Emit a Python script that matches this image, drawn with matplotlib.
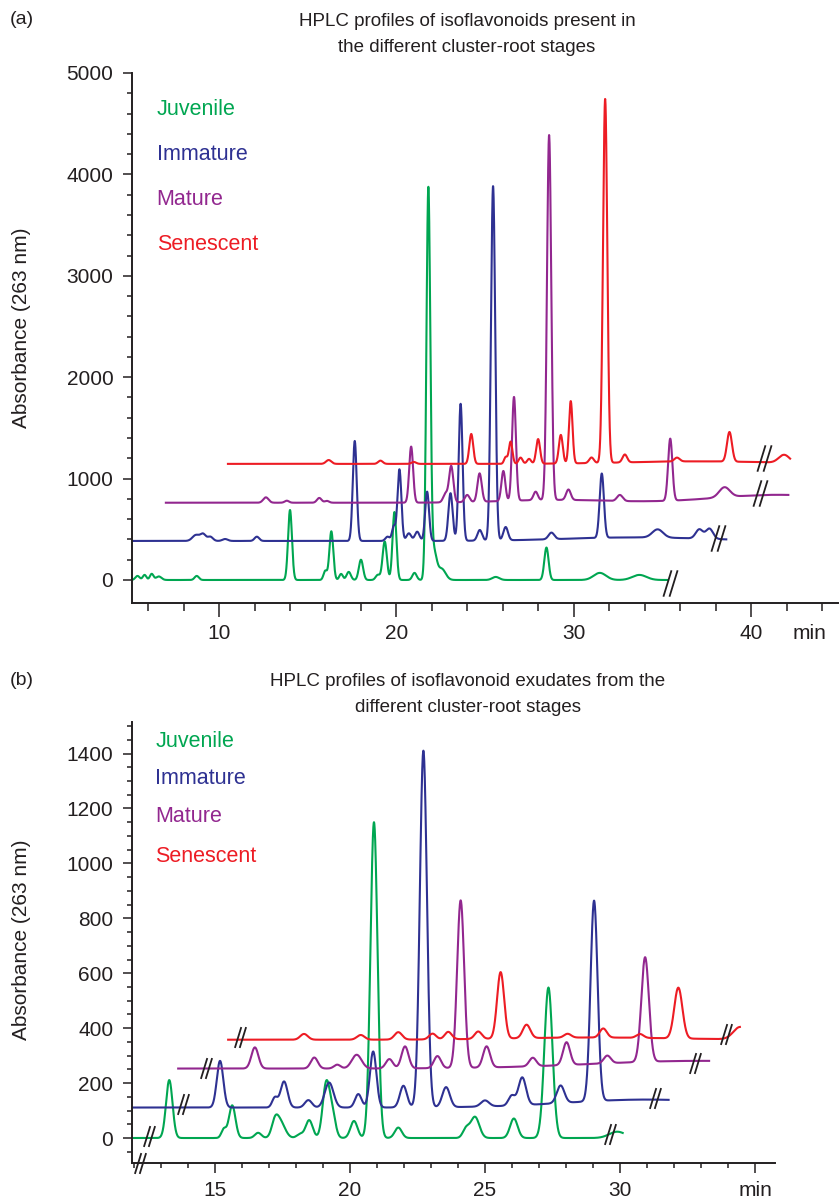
import numpy as np
import matplotlib
matplotlib.use("Agg")
import matplotlib.pyplot as plt
from matplotlib.path import Path
from matplotlib.ticker import FixedLocator, MultipleLocator

plt.rcParams['font.family'] = ['Liberation Sans', 'DejaVu Sans']

stages = ["Juvenile", "Immature", "Mature", "Senescent"]
colors = ["#00a651", "#2e3192", "#92278f", "#ed1c24"]
ink = "#231f20"

# ---- (a) isoflavonoids in the roots: run start / end (min) and baseline
a_start = [5.1, 5.1, 7.0, 10.5]
a_end = [35.3, 38.6, 42.1, 42.2]
a_base = [0, 385, 762, 1145]

# peak tables: retention time (min), apex absorbance, peak sigma (min)
a_juv_t = [5.4, 5.8, 6.2, 6.6, 8.74, 14.0, 15.99, 16.33, 16.88, 17.31, 18.0, 18.95,
           19.34, 19.89, 21.02, 21.8, 22.1, 22.55, 25.6, 28.46, 31.47, 33.7]
a_juv_y = [40, 50, 60, 35, 40, 690, 90, 480, 60, 80, 200, 50,
           380, 670, 70, 3830, 280, 110, 30, 320, 70, 50]
a_juv_w = [0.12, 0.1, 0.1, 0.15, 0.12, 0.11, 0.1, 0.11, 0.1, 0.12, 0.12, 0.12,
           0.12, 0.11, 0.12, 0.11, 0.16, 0.22, 0.2, 0.12, 0.35, 0.4]

a_imm_t = [8.7, 9.1, 9.5, 10.34, 12.13, 17.65, 19.5, 19.85, 20.17, 20.7, 21.17, 21.73,
           23.05, 23.62, 24.7, 25.45, 26.16, 28.74, 31.58, 34.73, 37.08, 37.65, 33.5]
a_imm_y = [444, 450, 427, 404, 427, 1371, 427, 526, 1091, 460, 476, 871,
           855, 1736, 490, 3880, 516, 450, 1019, 466, 476, 486, 420]
a_imm_w = [0.2, 0.15, 0.15, 0.15, 0.13, 0.11, 0.12, 0.1, 0.11, 0.13, 0.13, 0.11,
           0.12, 0.11, 0.13, 0.12, 0.13, 0.16, 0.12, 0.3, 0.2, 0.2, 4.0]

a_mat_t = [12.64, 13.82, 15.65, 16.08, 20.83, 22.77, 23.09, 23.99, 24.69, 26.03, 26.63,
           27.85, 28.61, 29.7, 32.6, 35.44, 38.5, 29.0, 41.5]
a_mat_y = [815, 782, 809, 780, 1315, 848, 1118, 832, 1042, 1058, 1785,
           845, 4360, 865, 822, 1374, 861, 790, 840]
a_mat_w = [0.15, 0.12, 0.13, 0.12, 0.11, 0.13, 0.12, 0.13, 0.12, 0.11, 0.11,
           0.12, 0.12, 0.13, 0.16, 0.12, 0.3, 3.0, 3.5]

a_sen_t = [16.18, 19.1, 20.98, 24.22, 26.16, 26.44, 27.0, 27.48, 27.99, 29.27, 29.83,
           31.0, 31.77, 32.88, 35.82, 38.78, 41.86, 37.0]
a_sen_y = [1183, 1177, 1164, 1440, 1210, 1364, 1206, 1193, 1388, 1427, 1759,
           1200, 4734, 1223, 1183, 1437, 1223, 1170]
a_sen_w = [0.15, 0.13, 0.13, 0.11, 0.09, 0.1, 0.11, 0.11, 0.11, 0.11, 0.1,
           0.13, 0.12, 0.13, 0.15, 0.14, 0.3, 4.0]

# "//" break marks: time, absorbance
a_brk_t = [35.44, 38.14, 40.51, 40.74]
a_brk_y = [-30, 414, 858, 1203]

# ---- (b) exudates
b_start = [11.93, 11.93, 13.64, 15.49]
b_end = [30.1, 31.8, 33.3, 34.44]
b_base = [0, 111, 253, 358]

b_juv_t = [13.31, 15.33, 15.64, 16.6, 17.22, 17.41, 18.15, 18.49, 19.12, 19.35, 20.15,
           20.89, 21.79, 24.3, 24.63, 26.07, 27.35, 29.9]
b_juv_y = [211, 32, 119, 19, 45, 60, 14, 65, 196, 80, 62,
           1150, 38, 33, 77, 71, 548, 23]
b_juv_w = [0.12, 0.09, 0.12, 0.12, 0.12, 0.18, 0.12, 0.13, 0.13, 0.12, 0.13,
           0.13, 0.13, 0.12, 0.16, 0.14, 0.15, 0.3]

b_imm_t = [15.19, 17.22, 17.56, 18.46, 19.23, 20.31, 20.86, 21.98, 22.72, 23.56, 25.0,
           25.99, 26.38, 27.8, 29.04, 31.0]
b_imm_y = [281, 147, 206, 138, 202, 160, 315, 190, 1410, 184, 133,
           147, 212, 175, 841, 140]
b_imm_w = [0.12, 0.1, 0.13, 0.13, 0.16, 0.12, 0.12, 0.13, 0.13, 0.14, 0.15,
           0.12, 0.14, 0.14, 0.13, 3.0]

b_mat_t = [16.48, 18.68, 19.53, 20.25, 21.46, 22.04, 23.24, 24.1, 25.06, 26.77, 28.02,
           29.53, 30.93, 33.0]
b_mat_y = [330, 293, 267, 303, 287, 333, 297, 863, 330, 284, 336,
           281, 634, 281]
b_mat_w = [0.13, 0.13, 0.12, 0.18, 0.13, 0.13, 0.13, 0.13, 0.13, 0.13, 0.13,
           0.13, 0.14, 4.0]

b_sen_t = [18.3, 20.4, 21.79, 23.06, 23.64, 24.75, 25.58, 26.54, 28.06, 29.38, 30.74,
           32.16, 34.45, 29.0]
b_sen_y = [379, 375, 385, 379, 385, 385, 600, 407, 372, 391, 372,
           543, 403, 366]
b_sen_w = [0.14, 0.14, 0.14, 0.13, 0.13, 0.13, 0.13, 0.14, 0.13, 0.13, 0.13,
           0.15, 0.25, 3.0]

b_brk_t = [12.55, 29.63, 13.8, 31.3, 14.67, 32.78, 15.93, 33.93]
b_brk_y = [7, 15, 124, 146, 256, 274, 369, 380]


def trace(t0, t1, base, times, apex, sig):
    t = np.linspace(t0, t1, 4000)
    y = np.full_like(t, float(base))
    for tc, ap, s in zip(times, apex, sig):
        y += (ap - base) * np.exp(-0.5 * ((t - tc) / s) ** 2)
    return t, y


brk = Path([(-7, -13), (1, 13), (-1, -13), (7, 13)],
           [Path.MOVETO, Path.LINETO, Path.MOVETO, Path.LINETO])

W, H = 840, 1199
fig = plt.figure(figsize=(W / 100, H / 100), dpi=100)
ax_a = fig.add_axes([132 / W, 1 - 603 / H, (838 - 132) / W, (603 - 73) / H])
ax_b = fig.add_axes([132 / W, 1 - 1163 / H, (775 - 132) / W, (1163 - 722) / H])

peaks_a = [(a_juv_t, a_juv_y, a_juv_w), (a_imm_t, a_imm_y, a_imm_w),
           (a_mat_t, a_mat_y, a_mat_w), (a_sen_t, a_sen_y, a_sen_w)]
peaks_b = [(b_juv_t, b_juv_y, b_juv_w), (b_imm_t, b_imm_y, b_imm_w),
           (b_mat_t, b_mat_y, b_mat_w), (b_sen_t, b_sen_y, b_sen_w)]

for i in range(4):
    t, y = trace(a_start[i], a_end[i], a_base[i], *peaks_a[i])
    ax_a.plot(t, y, color=colors[i], lw=1.5)
    t, y = trace(b_start[i], b_end[i], b_base[i], *peaks_b[i])
    ax_b.plot(t, y, color=colors[i], lw=1.5)

ax_a.plot(a_brk_t, a_brk_y, ls="none", marker=brk, ms=19, mfc="none",
          mec=ink, mew=1.3, clip_on=False, zorder=5)
ax_b.plot(b_brk_t, b_brk_y, ls="none", marker=brk, ms=15, mfc="none",
          mec=ink, mew=1.3, clip_on=False, zorder=5)
# break on the axis corner of (b)
ax_b.plot([12.22], [-91], ls="none", marker=brk, ms=15, mfc="none",
          mec=ink, mew=1.3, clip_on=False, zorder=5)

# axes styling
for ax in (ax_a, ax_b):
    for s in ("top", "right"):
        ax.spines[s].set_visible(False)
    for s in ("left", "bottom"):
        ax.spines[s].set_linewidth(1.4)
        ax.spines[s].set_color(ink)
    ax.tick_params(colors=ink, labelsize=15, width=1.1, which="both")
    ax.tick_params(axis="y", which="major", length=6.5, pad=7)
    ax.tick_params(axis="y", which="minor", length=3.6)

ax_a.set_xlim(5.09, 44.9)
ax_a.set_ylim(-227, 5000)
ax_a.xaxis.set_major_locator(MultipleLocator(10))
ax_a.xaxis.set_minor_locator(MultipleLocator(2))
ax_a.yaxis.set_major_locator(MultipleLocator(1000))
ax_a.yaxis.set_minor_locator(FixedLocator(np.arange(0, 5001, 200)))
ax_a.tick_params(axis="x", which="major", length=10, pad=5)
ax_a.tick_params(axis="x", which="minor", length=6)
ax_a.annotate("min", xy=(43.3, 0), xycoords=("data", "axes fraction"),
              xytext=(0, -15), textcoords="offset points",
              ha="center", va="top", fontsize=15, color=ink)

ax_b.set_xlim(11.93, 35.74)
ax_b.set_ylim(-91, 1515)
ax_b.xaxis.set_major_locator(FixedLocator([15, 20, 25, 30, 35]))
ax_b.set_xticklabels(["15", "20", "25", "30", "min"])
ax_b.xaxis.set_minor_locator(MultipleLocator(1))
ax_b.yaxis.set_major_locator(FixedLocator(np.arange(0, 1401, 200)))
ax_b.yaxis.set_minor_locator(FixedLocator(np.arange(-50, 1501, 50)))
ax_b.tick_params(axis="x", which="major", length=7, pad=6)
ax_b.tick_params(axis="x", which="minor", length=3.6)

# stage labels
a_lab_y = [0.932, 0.847, 0.762, 0.677]
b_lab_y = [0.955, 0.873, 0.785, 0.696]
for i in range(4):
    ax_a.text(0.035, a_lab_y[i], stages[i], color=colors[i], fontsize=15.5,
              va="center", transform=ax_a.transAxes)
    ax_b.text(0.036, b_lab_y[i], stages[i], color=colors[i], fontsize=15.5,
              va="center", transform=ax_b.transAxes)

fig.text(22 / W, 1 - 328 / H, "Absorbance (263 nm)", rotation=90,
         ha="center", va="center", fontsize=15, color=ink)
fig.text(22 / W, 1 - 940 / H, "Absorbance (263 nm)", rotation=90,
         ha="center", va="center", fontsize=15, color=ink)

fig.text(467 / W, 1 - 34.5 / H,
         "HPLC profiles of isoflavonoids present in\nthe different cluster-root stages",
         ha="center", va="center", fontsize=13.5, linespacing=1.7, color=ink)
fig.text(468 / W, 1 - 694.5 / H,
         "HPLC profiles of isoflavonoid exudates from the\ndifferent cluster-root stages",
         ha="center", va="center", fontsize=13.5, linespacing=1.7, color=ink)
fig.text(10 / W, 1 - 20 / H, "(a)", ha="left", va="center", fontsize=14, color=ink)
fig.text(10 / W, 1 - 681 / H, "(b)", ha="left", va="center", fontsize=14, color=ink)

fig.savefig("out.png", dpi=100)
